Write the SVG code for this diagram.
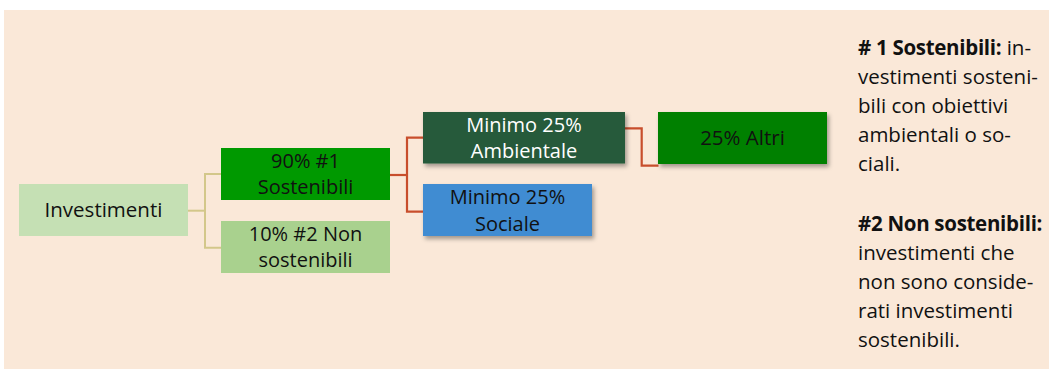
<svg xmlns="http://www.w3.org/2000/svg" width="1049" height="369" viewBox="0 0 1049 369">
<style>
text{font-family:"Open Sans","Noto Sans","DejaVu Sans",sans-serif;font-size:20.5px;fill:#111;}
.c{text-anchor:middle;font-size:20px;}
.w{fill:#fff;}
.b{font-weight:bold;letter-spacing:-0.3px;}
.k{fill:none;stroke:#D3C78A;stroke-width:2;}
.r{fill:none;stroke:#C84E2C;stroke-width:2.2;}
</style>
<defs>
<filter id="sh" x="-10%" y="-20%" width="130%" height="160%">
<feDropShadow dx="2" dy="3" stdDeviation="2" flood-color="#000" flood-opacity="0.35"/>
</filter>
</defs>
<rect x="0" y="0" width="1049" height="369" fill="#fff"/>
<rect x="4" y="10" width="1045" height="359" fill="#FAE8D8"/>
<g id="connectors">
<path class="k" d="M188 210.7 H205" stroke-width="3.5"/>
<path class="k" d="M221 174 H205 V247.7 H221"/>
<path class="r" d="M390 175 H407" stroke-width="3.5"/>
<path class="r" d="M423 137.7 H407 V211.7 H423"/>
<path class="r" d="M625 128.3 H641.7 V165.7 H658.5" stroke-width="2"/>
</g>
<g id="investimenti">
<rect x="19" y="184" width="169" height="52" fill="#C5E0B4"/>
<text class="c" x="103.5" y="217.3" style="font-size:20.5px">Investimenti</text>
</g>
<g id="sostenibili">
<rect x="221" y="148" width="169" height="52" fill="#009900"/>
<text class="c" x="305.5" y="168.3">90% #1</text>
<text class="c" x="305.5" y="193.5">Sostenibili</text>
</g>
<g id="non-sostenibili">
<rect x="221" y="221" width="169" height="52" fill="#A9D18E"/>
<text class="c" x="305.5" y="240.5">10% #2 Non</text>
<text class="c" x="305.5" y="266.5">sostenibili</text>
</g>
<g id="ambientale">
<rect x="423" y="112" width="202" height="51.5" fill="#275A3B" filter="url(#sh)"/>
<text class="c w" x="524" y="131.7">Minimo 25%</text>
<text class="c w" x="524" y="157.5">Ambientale</text>
</g>
<g id="sociale">
<rect x="423" y="184" width="169" height="52" fill="#3F8CD2" filter="url(#sh)"/>
<text class="c" x="507.5" y="203.5">Minimo 25%</text>
<text class="c" x="507.5" y="230.5">Sociale</text>
</g>
<g id="altri">
<rect x="658" y="112" width="169" height="52" fill="#008000" filter="url(#sh)"/>
<text class="c" x="742.5" y="145" style="font-size:20.5px">25% Altri</text>
</g>
<g id="legenda">
<text x="858" y="55"><tspan class="b"># 1 Sostenibili:</tspan> in-</text>
<text x="858" y="84">vestimenti sosteni-</text>
<text x="858" y="113">bili con obiettivi</text>
<text x="858" y="142">ambientali o so-</text>
<text x="858" y="171">ciali.</text>
<text x="858" y="231" class="b">#2 Non sostenibili:</text>
<text x="858" y="260">investimenti che</text>
<text x="858" y="289">non sono conside-</text>
<text x="858" y="318">rati investimenti</text>
<text x="858" y="347">sostenibili.</text>
</g>
</svg>
